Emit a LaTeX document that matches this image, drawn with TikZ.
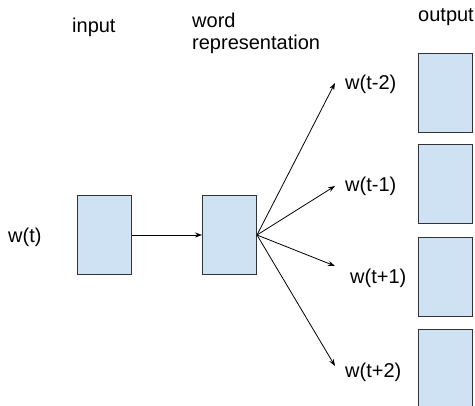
\documentclass[tikz,border=0pt]{standalone}
\usepackage{fontspec}
\setmainfont{Liberation Sans}
\usetikzlibrary{arrows.meta}
\definecolor{boxblue}{HTML}{CFE2F3}
\definecolor{edge}{HTML}{333333}
\begin{document}
\begin{tikzpicture}[x=1pt,y=-1pt, font=\fontsize{20}{22}\selectfont,
  box/.style={draw=edge, fill=boxblue, line width=1pt, minimum width=54pt, minimum height=79pt, inner sep=0pt, anchor=north west},
  lbl/.style={inner sep=0pt, anchor=west},
  conn/.style={draw=black, line width=0.8pt, -{Stealth[length=7pt,width=5pt]}}]
\useasboundingbox (0,0) rectangle (475,406);
% top labels
\node[lbl] (tin) at (72,27) {input};
\node[lbl, align=left] (trep) at (192,33) {word\\representation};
\node[lbl] (tout) at (418,17) {output};
% boxes
\node[box] (in) at (77,195) {};
\node[box] (rep) at (202,195) {};
\node[box] (o1) at (418,53) {};
\node[box] (o2) at (418,144) {};
\node[box] (o3) at (418,237) {};
\node[box] (o4) at (418,329) {};
% labels
\node[lbl] (wt) at (8,237) {w(t)};
\node[lbl] (l1) at (345,84) {w(t-2)};
\node[lbl] (l2) at (345,186) {w(t-1)};
\node[lbl] (l3) at (350,278) {w(t+1)};
\node[lbl] (l4) at (345,372) {w(t+2)};
% arrow tips
\coordinate (a1) at (335,83);
\coordinate (a2) at (335,186);
\coordinate (a3) at (335,266);
\coordinate (a4) at (335,366);
% connectors
\draw[conn] (in.east) -- (rep.west);
\draw[conn] (rep.east) -- (a1);
\draw[conn] (rep.east) -- (a2);
\draw[conn] (rep.east) -- (a3);
\draw[conn] (rep.east) -- (a4);
\end{tikzpicture}
\end{document}
